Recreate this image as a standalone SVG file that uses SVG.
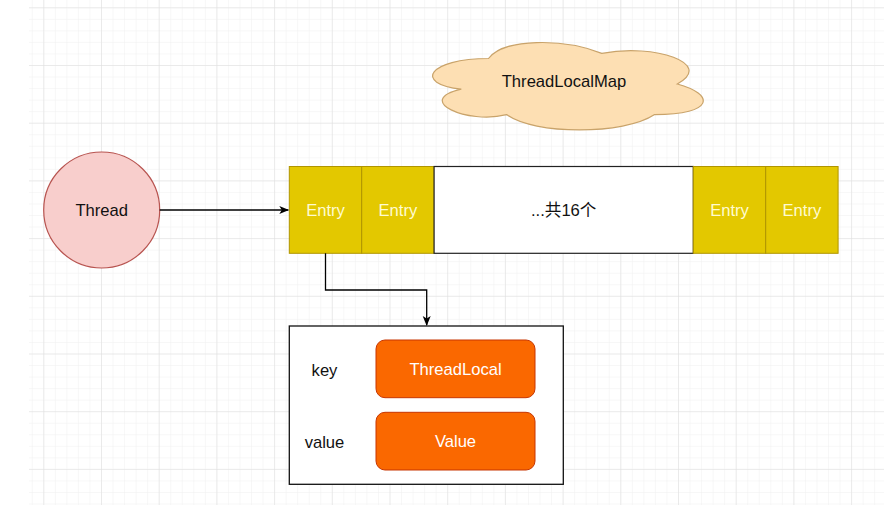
<svg xmlns="http://www.w3.org/2000/svg" width="884" height="514" viewBox="0 0 884 514">
<defs>
<pattern id="minor" x="43.3" y="7.3" width="11.54" height="11.54" patternUnits="userSpaceOnUse">
<path d="M0 0H11.54M0 0V11.54" fill="none" stroke="#efefef" stroke-width="1"/>
</pattern>
<pattern id="major" x="43.3" y="7.3" width="57.7" height="57.7" patternUnits="userSpaceOnUse">
<path d="M0 0H57.7M0 0V57.7" fill="none" stroke="#dedede" stroke-width="1"/>
</pattern>
<marker id="arr" viewBox="0 0 10 10" refX="9" refY="5" markerWidth="10" markerHeight="10" markerUnits="userSpaceOnUse" orient="auto">
<path d="M0 1 L10 5 L0 9 L2.5 5 Z" fill="#000"/>
</marker>
<style>
text{font-family:"Liberation Sans",Arial,sans-serif;font-size:16.6px;text-anchor:middle;dominant-baseline:central}
.entry rect{fill:#e3c800;stroke:#b09500;stroke-width:1}
.entry text{fill:#fffbd0}
.orange rect{fill:#fa6800;stroke:#c73500;stroke-width:1}
.orange text{fill:#ffffff}
.edge{fill:none;stroke:#000;stroke-width:1.3}
</style>
</defs>
<rect width="884" height="514" fill="#ffffff"/>
<rect x="29" y="0" width="855" height="505" fill="url(#minor)"/>
<rect x="29" y="0" width="855" height="505" fill="url(#major)"/>

<g id="cloud">
<path d="M488.5 58.5 C428.1 58.5 413 84 461.3 89.1 C413 100.3 467.4 124.8 506.6 114.6 C533.8 135 624.4 135 654.6 114.6 C715 114.6 715 94.2 677.3 84 C715 63.6 654.6 43.2 601.8 53.4 C564 38.1 503.6 38.1 488.5 58.5 Z" fill="#fddfb3" stroke="#c9a36a" stroke-width="1.2"/>
<text x="564" y="81" fill="#111">ThreadLocalMap</text>
</g>

<g id="thread">
<circle cx="101.7" cy="210" r="58" fill="#f8cecc" stroke="#b85450" stroke-width="1.2"/>
<text x="101.7" y="210" fill="#111">Thread</text>
</g>

<g id="entries">
<g id="entry1" class="entry"><rect x="289.3" y="166.5" width="72.4" height="86.8"/><text x="325.5" y="210">Entry</text></g>
<g id="entry2" class="entry"><rect x="361.7" y="166.5" width="72.4" height="86.8"/><text x="397.9" y="210">Entry</text></g>
<g id="more"><rect x="434.1" y="166.5" width="259.2" height="86.8" fill="#ffffff" stroke="#222" stroke-width="1.2"/><text x="563.7" y="210" fill="#111" style="font-family:'Liberation Sans','Noto Sans CJK SC',sans-serif">...共16个</text></g>
<g id="entry3" class="entry"><rect x="693.3" y="166.5" width="72.4" height="86.8"/><text x="729.5" y="210">Entry</text></g>
<g id="entry4" class="entry"><rect x="765.7" y="166.5" width="72.4" height="86.8"/><text x="801.9" y="210">Entry</text></g>
</g>

<g id="entryDetail">
<rect x="289.3" y="326" width="274" height="158.3" fill="#ffffff" stroke="#111" stroke-width="1.3"/>
<text x="324.5" y="370" fill="#111">key</text>
<text x="324.5" y="442" fill="#111">value</text>
<g id="threadLocal" class="orange"><rect x="376" y="340" width="159" height="57.7" rx="9"/><text x="455.5" y="369">ThreadLocal</text></g>
<g id="value" class="orange"><rect x="376" y="412.3" width="159" height="57.7" rx="9"/><text x="455.5" y="441">Value</text></g>
</g>

<g id="connectors">
<path class="edge" d="M159.7 210 H288.3" marker-end="url(#arr)"/>
<path class="edge" d="M325.5 253.3 V290 H426.7 V325" marker-end="url(#arr)"/>
</g>
</svg>
